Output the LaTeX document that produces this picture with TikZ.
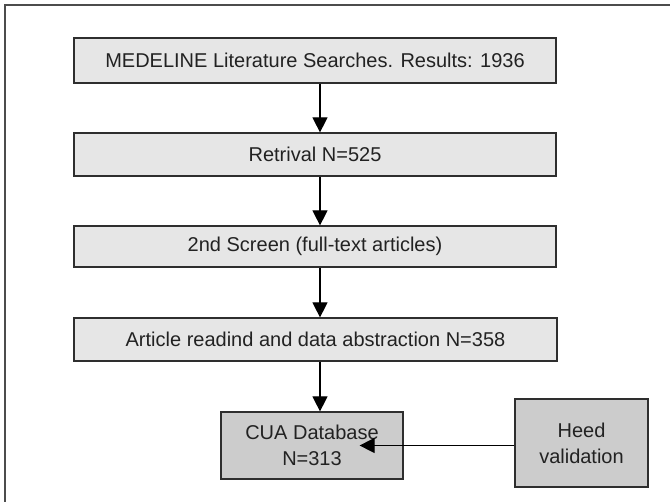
\documentclass[tikz,border=0pt]{standalone}
\usepackage{fontspec}
\setmainfont{Liberation Sans}
\usetikzlibrary{arrows.meta}
\definecolor{boxline}{HTML}{2E2E2E}
\definecolor{lightfill}{HTML}{E6E6E6}
\definecolor{darkfill}{HTML}{CCCCCC}
\definecolor{inktext}{HTML}{222222}

\begin{document}
\begin{tikzpicture}[x=1pt, y=-1pt,
  stage/.style={draw=boxline, line width=1.2pt, fill=lightfill, text=inktext,
    minimum width=482pt, minimum height=43pt, inner sep=0pt},
  result/.style={draw=boxline, line width=1.2pt, fill=darkfill, text=inktext,
    align=center, inner sep=0pt},
  flow/.style={-{Triangle[width=15pt, length=15pt]}, line width=1.1pt, black}]
\useasboundingbox (0,0) rectangle (670,502);
\fontsize{20}{26}\selectfont
\draw[line width=1.4pt, black!70] (5,502) -- (5,5) -- (670,5);
\node (search) at (315,60.5) [stage, minimum height=45pt] {MEDELINE Literature Searches. Results: 1936};
\node (retr) at (315,154.5) [stage] {Retrival N=525};
\node (screen) at (315,246.5) [stage, minimum height=41pt] {2nd Screen (full-text articles)};
\node (abstr) at (315.5,339.5) [stage, minimum width=483pt] {Article readind and data abstraction N=358};
\node (cua) at (312,445.5) [result, minimum width=182pt, minimum height=67pt] {CUA Database\\N=313};
\node (heed) at (581.5,443) [result, minimum width=133pt, minimum height=88pt] {Heed\\validation};
\draw[flow] ([xshift=5pt]search.south) -- ([xshift=5pt]retr.north);
\draw[flow] ([xshift=5pt]retr.south) -- ([xshift=5pt]screen.north);
\draw[flow] ([xshift=5pt]screen.south) -- ([xshift=5pt]screen.south |- abstr.north);
\draw[flow] ([xshift=4.5pt]abstr.south) -- ([xshift=8pt]cua.north);
\draw[flow] (heed.west |- cua.east) -- ([xshift=-44pt]cua.east);
\end{tikzpicture}
\end{document}
